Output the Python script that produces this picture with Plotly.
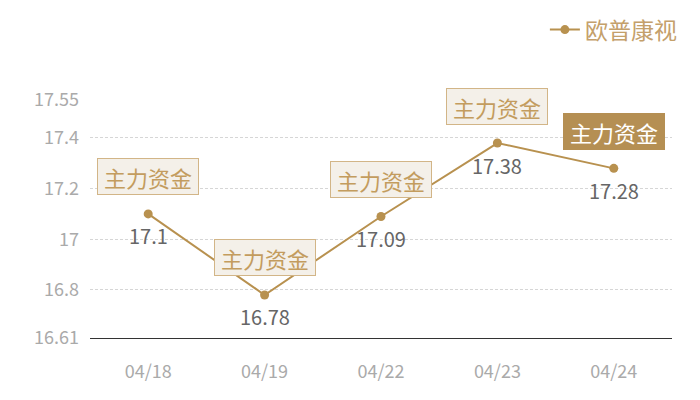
import plotly.graph_objects as go

dates = ["04/18", "04/19", "04/22", "04/23", "04/24"]
prices = [17.1, 16.78, 17.09, 17.38, 17.28]
labels = ["主力资金", "主力资金", "主力资金", "主力资金", "主力资金"]
highlight = [False, False, False, False, True]
y_ticks = [16.61, 16.8, 17, 17.2, 17.4, 17.55]
series_name = "欧普康视"

FONT = "Noto Sans CJK SC"
GOLD = "#b8914f"

fig = go.Figure()
fig.add_trace(go.Scatter(
    x=dates, y=prices, name=series_name,
    mode="lines+markers",
    line=dict(color=GOLD, width=2),
    marker=dict(color=GOLD, size=9),
    cliponaxis=False,
))

for d, p in zip(dates, prices):
    fig.add_annotation(
        x=d, y=p, xref="x", yref="y", text=str(p), showarrow=False,
        yshift=-22, font=dict(family=FONT, size=20, color="#666666"),
    )

for d, p, lab, hl in zip(dates, prices, labels, highlight):
    fig.add_annotation(
        x=d, y=p, xref="x", yref="y", text=lab, showarrow=False,
        yshift=37, width=96, height=31, valign="middle",
        font=dict(family=FONT, size=22, color="#ffffff" if hl else "#c39c5e"),
        bgcolor="#b58f53" if hl else "#f4f0e9",
        bordercolor="#b58f53" if hl else "#d2b587",
        borderwidth=1, borderpad=2,
    )

fig.update_layout(
    width=692, height=392,
    margin=dict(l=82, r=28, t=92, b=62, autoexpand=False),
    paper_bgcolor="white", plot_bgcolor="white",
    font=dict(family=FONT),
    showlegend=True,
    legend=dict(x=1.017, xanchor="right", y=1.386, yanchor="top",
                font=dict(family=FONT, size=23, color="#c4a06a"),
                bgcolor="rgba(0,0,0,0)", itemwidth=30),
    xaxis=dict(
        type="category", range=[-0.5, 4.5], showgrid=False, showline=True,
        linecolor="#333333", linewidth=1, ticks="",
        tickfont=dict(family=FONT, size=18, color="#aaaaaa"),
        ticklabelstandoff=17, zeroline=False,
    ),
    yaxis=dict(
        range=[16.61, 17.55], tickvals=y_ticks, ticktext=[str(v) for v in y_ticks],
        showgrid=True, gridcolor="#d6d6d6", griddash="3px,2px", gridwidth=1,
        zeroline=False, showline=False, ticks="",
        tickfont=dict(family=FONT, size=18, color="#aaaaaa"),
        ticklabelstandoff=10,
    ),
)

fig.write_html("out.html")
